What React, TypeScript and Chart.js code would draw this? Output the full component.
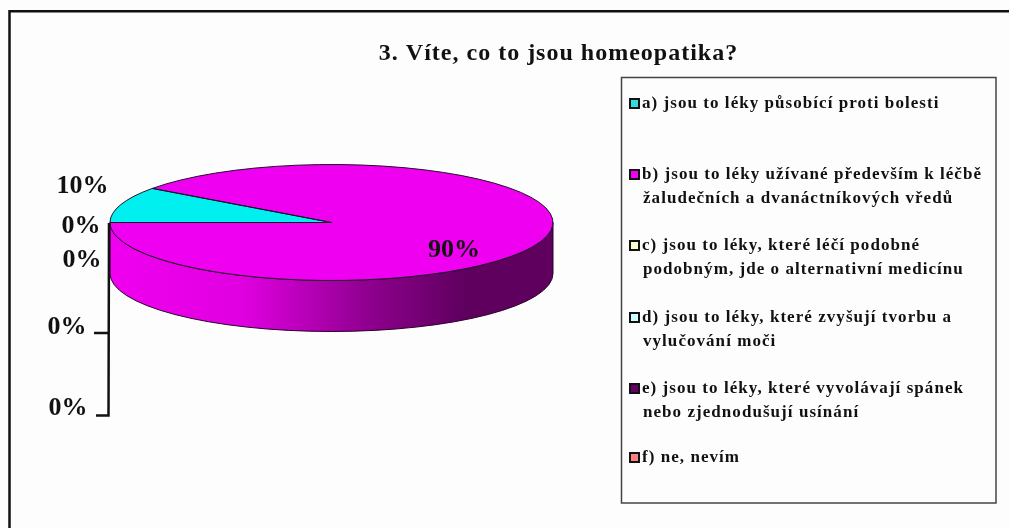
import React, { useEffect, useRef } from "react";
import { Chart, registerables } from "chart.js";

Chart.register(...registerables);

const titleText = "3. Víte, co to jsou homeopatika?";
const categories = [
  "a) jsou to léky působící proti bolesti",
  "b) jsou to léky užívané především k léčbě žaludečních a dvanáctníkových vředů",
  "c) jsou to léky, které léčí podobné podobným, jde o alternativní medicínu",
  "d) jsou to léky, které zvyšují tvorbu a vylučování moči",
  "e) jsou to léky, které vyvolávají spánek nebo zjednodušují usínání",
  "f) ne, nevím",
];
const legendLines = [
  ["a) jsou to léky působící proti bolesti"],
  ["b) jsou to léky užívané především k léčbě", "žaludečních a dvanáctníkových vředů"],
  ["c) jsou to léky, které léčí podobné", "podobným, jde o alternativní medicínu"],
  ["d) jsou to léky, které zvyšují tvorbu a", "vylučování moči"],
  ["e) jsou to léky, které vyvolávají spánek", "nebo zjednodušují usínání"],
  ["f) ne, nevím"],
];
const percentages = [10, 90, 0, 0, 0, 0];
const sliceColors = ["#00F0F0", "#F000F0", "#FFFFCC", "#CCFFFF", "#660066", "#FF8080"];
const swatchColors = ["#33DDDD", "#F000F0", "#FFFFCC", "#CCFFFF", "#660066", "#FF8080"];

const SERIF = '"Liberation Serif", serif';
const CX = 331.5;
const CY = 222.5;
const RY = 58;
const DEPTH = 51;

const labelAnchors: [number, number][] = [
  [82.5, 186],
  [454, 250],
  [81, 226.5],
  [82, 260.5],
  [67, 327],
  [68, 408.5],
];
const legendRowY = [103, 174, 245, 317, 388, 457];

const pie3d = {
  id: "pie3d",
  afterLayout(chart: any) {
    const t = chart.titleBlock;
    if (t) {
      t.left += 227;
      t.right += 227;
    }
  },
  beforeDraw(chart: any) {
    (chart.ctx as any).letterSpacing = "1px";
  },
  beforeDatasetsDraw(chart: any) {
    const ctx: CanvasRenderingContext2D = chart.ctx;
    (ctx as any).letterSpacing = "0px";
    const arc = chart.getDatasetMeta(0).data[1];
    const rx = arc.outerRadius;
    const sy = RY / rx;

    // frame
    ctx.save();
    ctx.strokeStyle = "#111";
    ctx.lineWidth = 2.5;
    ctx.beginPath();
    ctx.moveTo(9.5, 528);
    ctx.lineTo(9.5, 11.3);
    ctx.lineTo(1009, 11.3);
    ctx.stroke();
    ctx.restore();

    // side wall
    const grad = ctx.createLinearGradient(CX - rx, 0, CX + rx, 0);
    grad.addColorStop(0, "#F000F0");
    grad.addColorStop(0.3, "#E000E0");
    grad.addColorStop(0.6, "#8A008A");
    grad.addColorStop(0.8, "#5F005F");
    grad.addColorStop(1, "#5F005F");
    ctx.save();
    ctx.beginPath();
    ctx.ellipse(CX, CY, rx, RY, 0, Math.PI, 0, true);
    ctx.lineTo(CX + rx, CY + DEPTH);
    ctx.ellipse(CX, CY + DEPTH, rx, RY, 0, 0, Math.PI, false);
    ctx.closePath();
    ctx.fillStyle = grad;
    ctx.fill();
    ctx.strokeStyle = "#2a002a";
    ctx.lineWidth = 1;
    ctx.stroke();
    ctx.restore();

    ctx.save();
    ctx.translate(CX, CY);
    ctx.scale(1, sy);
    ctx.translate(-arc.x, -arc.y);
  },
  afterDatasetsDraw(chart: any) {
    const ctx: CanvasRenderingContext2D = chart.ctx;
    ctx.restore();
    const meta = chart.getDatasetMeta(0);

    // slice outlines, stroked outside the squash so the pen stays round
    meta.data.forEach((el: any, i: number) => {
      if (!percentages[i]) return;
      const rx = el.outerRadius;
      ctx.save();
      ctx.beginPath();
      ctx.moveTo(CX, CY);
      ctx.ellipse(CX, CY, rx, RY, 0, el.startAngle, el.endAngle, false);
      ctx.closePath();
      ctx.strokeStyle = "#20102a";
      ctx.lineWidth = 1;
      ctx.stroke();
      ctx.restore();
    });

    // leader lines
    ctx.save();
    ctx.strokeStyle = "#111";
    ctx.lineWidth = 2.5;
    ctx.beginPath();
    ctx.moveTo(109, 223);
    ctx.lineTo(108.5, 415.5);
    ctx.lineTo(96, 415.5);
    ctx.moveTo(108, 333);
    ctx.lineTo(94, 333);
    ctx.stroke();
    ctx.restore();

    // percentage labels
    ctx.save();
    ctx.fillStyle = "#111";
    ctx.font = `bold 26px ${SERIF}`;
    ctx.textAlign = "center";
    ctx.textBaseline = "middle";
    percentages.forEach((p, i) => {
      const [x, y] = labelAnchors[i];
      ctx.fillText(`${p}%`, x, y);
    });
    ctx.restore();

    // legend
    ctx.save();
    ctx.strokeStyle = "#444";
    ctx.lineWidth = 1.5;
    ctx.strokeRect(621.5, 77.5, 374.5, 425.5);
    ctx.font = `bold 17px ${SERIF}`;
    (ctx as any).letterSpacing = "1.05px";
    ctx.textBaseline = "middle";
    ctx.textAlign = "left";
    legendLines.forEach((lines, i) => {
      const y = legendRowY[i];
      ctx.fillStyle = swatchColors[i];
      ctx.fillRect(630, y - 4, 9, 9);
      ctx.strokeStyle = "#111";
      ctx.lineWidth = 2;
      ctx.strokeRect(630, y - 4, 9, 9);
      ctx.fillStyle = "#111";
      lines.forEach((line, j) => ctx.fillText(line, j === 0 ? 642 : 643, y + 1 + j * 23.5));
    });
    ctx.restore();
  },
};

export default function App() {
  const ref = useRef<HTMLCanvasElement>(null);
  useEffect(() => {
    const chart = new Chart(ref.current!, {
      type: "pie",
      data: {
        labels: categories,
        datasets: [
          {
            data: percentages,
            backgroundColor: sliceColors,
            borderWidth: 0,
          },
        ],
      },
      options: {
        animation: false,
        responsive: false,
        rotation: 270,
        layout: { padding: { left: 110, right: 456, top: 0, bottom: 0 } },
        plugins: {
          legend: { display: false },
          tooltip: { enabled: false },
          title: {
            display: true,
            text: titleText,
            color: "#111",
            font: { family: SERIF, size: 24, weight: "bold" },
            padding: { top: 39, bottom: 10 },
          },
        },
      },
      plugins: [pie3d],
    });
    return () => chart.destroy();
  }, []);
  return (
    <canvas
      ref={ref}
      width={1009}
      height={528}
      style={{
        position: "fixed",
        left: 0,
        top: 0,
        background: "#FDFDFD",
        filter: "blur(0.5px)",
      }}
    />
  );
}
